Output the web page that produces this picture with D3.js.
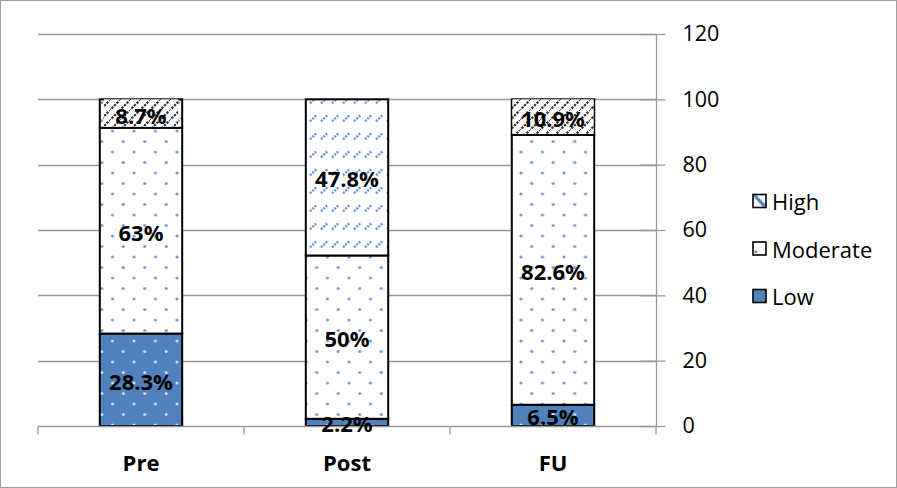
<!DOCTYPE html>
<html>
<head>
<meta charset="utf-8">
<script src="https://cdn.jsdelivr.net/npm/d3@7/dist/d3.min.js"></script>
<style>
  html, body { margin: 0; padding: 0; background: #fff; }
  svg { display: block; font-family: "Open Sans", "Noto Sans", sans-serif; }
</style>
</head>
<body>
<svg id="chart" width="897" height="488"></svg>
<script>
// Stacked percentages per time point
const categories = ["Pre", "Post", "FU"];
const seriesNames = ["Low", "Moderate", "High"];
const lowValues = [28.3, 2.2, 6.5];
const moderateValues = [63, 50, 82.6];
const highValues = [8.7, 47.8, 10.9];
const yTicks = [0, 20, 40, 60, 80, 100, 120];
const legendOrder = ["High", "Moderate", "Low"];

const rows = categories.map((c, i) => ({
  category: c, Low: lowValues[i], Moderate: moderateValues[i], High: highValues[i]
}));

const W = 897, H = 488;
const plot = { left: 38, right: 656, top: 34, bottom: 426 };
const FONT = 21.5;
const LABEL_FONT = 22;
const svg = d3.select("#chart");
const defs = svg.append("defs");

// Fill patterns
function dotPattern(id, bg, dot, r) {
  const p = defs.append("pattern").attr("id", id)
    .attr("patternUnits", "userSpaceOnUse").attr("width", 21.5).attr("height", 21);
  p.append("rect").attr("width", 21.5).attr("height", 21).attr("fill", bg);
  [[5, 5], [15.75, 15.5]].forEach(([x, y]) =>
    p.append("circle").attr("cx", x).attr("cy", y).attr("r", r).attr("fill", dot));
}
dotPattern("pat-low", "#4f81bd", "#d3e1f3", 1.5);
dotPattern("pat-mod", "#ffffff", "#6f9ad3", 1.6);

const dash = defs.append("pattern").attr("id", "pat-high")
  .attr("patternUnits", "userSpaceOnUse").attr("width", 11).attr("height", 18);
dash.append("rect").attr("width", 11).attr("height", 18).attr("fill", "#fff");
dash.append("line").attr("x1", 2).attr("y1", 13.5).attr("x2", 9).attr("y2", 6.5)
  .attr("stroke", "#7199d0").attr("stroke-width", 2.4).attr("stroke-dasharray", "2.2,1.1");

const hatch = defs.append("pattern").attr("id", "pat-hatch")
  .attr("patternUnits", "userSpaceOnUse").attr("width", 10).attr("height", 10);
hatch.append("rect").attr("width", 10).attr("height", 10).attr("fill", "#fff");
hatch.append("line").attr("x1", -1).attr("y1", 11).attr("x2", 11).attr("y2", -1)
  .attr("stroke", "#333").attr("stroke-width", 2.2).attr("stroke-dasharray", "2.4,1.2");

// Legend swatch patterns
const legHigh = defs.append("pattern").attr("id", "leg-high")
  .attr("patternUnits", "objectBoundingBox").attr("width", 1).attr("height", 1)
  .attr("patternContentUnits", "objectBoundingBox");
legHigh.append("rect").attr("width", 1).attr("height", 1).attr("fill", "#fff");
legHigh.append("path").attr("d", "M0,0.1 L0.2,0 L1,0.8 L0.8,1 Z").attr("fill", "#4f81bd");
const legMod = defs.append("pattern").attr("id", "leg-mod")
  .attr("patternUnits", "objectBoundingBox").attr("width", 1).attr("height", 1)
  .attr("patternContentUnits", "objectBoundingBox");
legMod.append("rect").attr("width", 1).attr("height", 1).attr("fill", "#fff");
legMod.append("circle").attr("cx", 0.22).attr("cy", 0.75).attr("r", 0.12).attr("fill", "#6f9ad3");

const fills = { Low: "url(#pat-low)", Moderate: "url(#pat-mod)", High: "url(#pat-high)" };
const legendFills = { Low: "#4f81bd", Moderate: "url(#leg-mod)", High: "url(#leg-high)" };

// Scales
const x = d3.scaleBand().domain(categories).range([plot.left, plot.right])
  .paddingInner(0.6).paddingOuter(0.3);
const xb = d3.scaleBand().domain(categories).range([plot.left, plot.right]);
const y = d3.scaleLinear().domain([0, 120]).range([plot.bottom, plot.top]);

// Outer frame
svg.append("rect").attr("x", 0.5).attr("y", 0.5).attr("width", W - 1).attr("height", H - 1)
  .attr("fill", "none").attr("stroke", "#a0a0a0");

// Gridlines
svg.append("g").selectAll("line").data(yTicks.filter(t => t > 0)).join("line")
  .attr("x1", plot.left).attr("x2", plot.right)
  .attr("y1", d => Math.round(y(d)) + 0.5).attr("y2", d => Math.round(y(d)) + 0.5)
  .attr("stroke", "#979797").attr("stroke-width", 1.3);

// Right value axis
const yAxis = svg.append("g").attr("transform", `translate(${plot.right + 0.5},0)`)
  .call(d3.axisRight(y).tickValues(yTicks).tickSize(9).tickPadding(17));
yAxis.select(".domain").attr("stroke", "#979797").attr("stroke-width", 1.3)
  .attr("d", `M0,${plot.top}V${plot.bottom}`);
yAxis.selectAll(".tick line").attr("stroke", "#979797").attr("stroke-width", 1.3).attr("x1", -16).attr("x2", 9);
yAxis.selectAll(".tick text").attr("font-size", FONT).attr("fill", "#000")
  .attr("font-family", "'Open Sans', 'Noto Sans', sans-serif");

// Stacked bars
const stack = d3.stack().keys(seriesNames)(rows);
const barG = svg.append("g");
stack.forEach(layer => {
  barG.append("g").selectAll("rect").data(layer).join("rect")
    .attr("x", d => x(d.data.category))
    .attr("y", d => y(d[1]))
    .attr("width", x.bandwidth())
    .attr("height", d => y(d[0]) - y(d[1]))
    .attr("fill", fills[layer.key])
    .attr("stroke", "#000").attr("stroke-width", 2);
});

// Category axis
const xAxis = svg.append("g").attr("transform", `translate(0,${plot.bottom + 0.5})`);
xAxis.append("line").attr("x1", plot.left).attr("x2", plot.right)
  .attr("stroke", "#979797").attr("stroke-width", 1.6);
const bounds = categories.map(c => xb(c)).concat([plot.right]);
xAxis.selectAll(".tk").data(bounds).join("line").attr("class", "tk")
  .attr("x1", d => d).attr("x2", d => d).attr("y1", 0).attr("y2", 8)
  .attr("stroke", "#979797").attr("stroke-width", 1.3);
xAxis.selectAll("text").data(categories).join("text")
  .attr("x", d => xb(d) + xb.bandwidth() / 2).attr("y", 35)
  .attr("dominant-baseline", "central")
  .attr("text-anchor", "middle").attr("font-size", LABEL_FONT).attr("font-weight", "bold")
  .text(d => d);

// Data labels (hatched label boxes on the High labels of Pre and FU)
const boxed = new Set(["Pre|High", "FU|High"]);
const labelG = svg.append("g");
stack.forEach(layer => {
  layer.forEach(d => {
    const cx = x(d.data.category) + x.bandwidth() / 2;
    const cy = (y(d[0]) + y(d[1])) / 2;
    const txt = d3.format("~")(d.data[layer.key]) + "%";
    if (boxed.has(d.data.category + "|" + layer.key)) {
      const bw = d.data.category === "Pre" ? x.bandwidth() - 8 : x.bandwidth() - 1;
      labelG.append("rect")
        .attr("x", cx - bw / 2).attr("y", y(d[1]))
        .attr("width", bw).attr("height", y(d[0]) - y(d[1]) - 1)
        .attr("fill", "url(#pat-hatch)");
    }
    labelG.append("text").attr("x", cx).attr("y", cy + 1)
      .attr("text-anchor", "middle").attr("dominant-baseline", "central")
      .attr("font-size", LABEL_FONT).attr("font-weight", "bold").attr("fill", "#000")
      .text(txt);
  });
});

// Legend
const legend = svg.append("g");
legendOrder.forEach((k, i) => {
  const ly = 201 + i * 47.5;
  legend.append("rect").attr("x", 753).attr("y", ly - 6.5).attr("width", 13).attr("height", 13)
    .attr("fill", legendFills[k]).attr("stroke", "#000").attr("stroke-width", 1.6);
  legend.append("text").attr("x", 772).attr("y", ly).attr("dominant-baseline", "central")
    .attr("font-size", LABEL_FONT).attr("fill", "#000").text(k);
});
</script>
</body>
</html>
